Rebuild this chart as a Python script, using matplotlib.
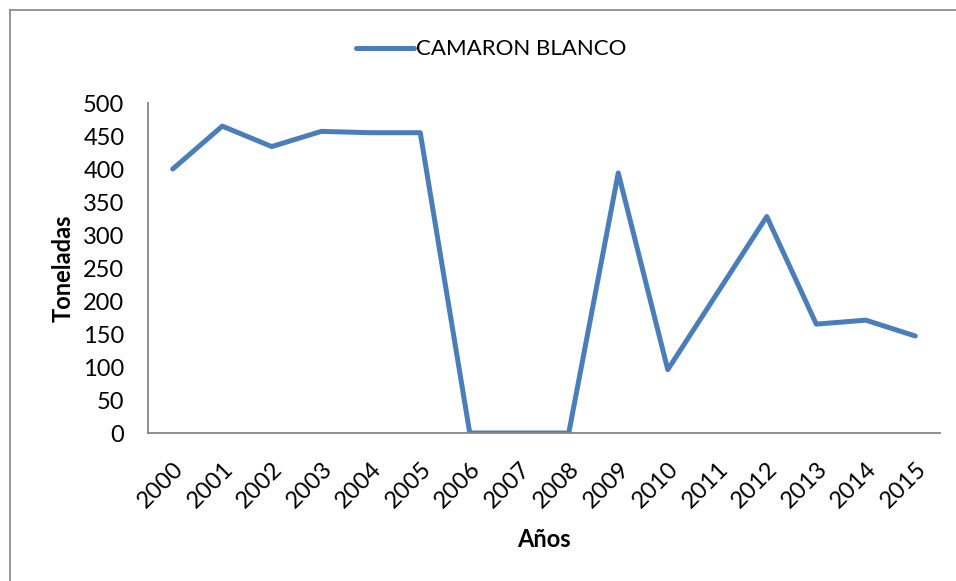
import matplotlib
matplotlib.use("Agg")
import matplotlib.pyplot as plt
from matplotlib.lines import Line2D

plt.rcParams['font.family'] = ['Lato', 'DejaVu Sans']

years = ["2000", "2001", "2002", "2003", "2004", "2005", "2006", "2007",
         "2008", "2009", "2010", "2011", "2012", "2013", "2014", "2015"]
toneladas = [400, 465, 434, 457, 455, 455, 0, 0, 0, 394, 96, 212, 328, 165, 171, 147]
series_name = "CAMARON BLANCO"

line_color = "#4A7EBB"
spine_color = "#868686"

fig = plt.figure(figsize=(9.56, 5.81), dpi=100)
ax = fig.add_axes([0.1548, 0.2547, 0.8285, 0.568])

x = list(range(len(years)))
ax.plot(x, toneladas, color=line_color, linewidth=3.6,
        solid_capstyle="round", solid_joinstyle="round", label=series_name)

ax.set_xlim(-0.5, len(years) - 0.5)
ax.set_ylim(0, 500)
ax.set_yticks(range(0, 501, 50))
ax.set_xticks(x)
ax.set_xticklabels(years, rotation=45, ha="right", rotation_mode="anchor")
ax.tick_params(axis="both", length=0, labelsize=17, colors="black")
ax.tick_params(axis="y", pad=17)
ax.tick_params(axis="x", pad=18)

for side in ("top", "right"):
    ax.spines[side].set_visible(False)
for side in ("left", "bottom"):
    ax.spines[side].set_color(spine_color)
    ax.spines[side].set_linewidth(1.3)

ax.set_ylabel("Toneladas", fontsize=17, fontweight="bold", labelpad=6)
ax.set_xlabel("Años", fontsize=17, fontweight="bold", labelpad=12)

ax.legend(loc="center", bbox_to_anchor=(0.514, 0.915), bbox_transform=fig.transFigure,
          frameon=False, fontsize=16, handlelength=2.6, handletextpad=0.1)

# outer chart border (left and top edges only visible in crop)
fig.add_artist(Line2D([9.5 / 956, 9.5 / 956], [0, 1 - 9.5 / 581],
                      transform=fig.transFigure, color=spine_color, linewidth=1.2))
fig.add_artist(Line2D([9.5 / 956, 1], [1 - 9.5 / 581, 1 - 9.5 / 581],
                      transform=fig.transFigure, color=spine_color, linewidth=1.2))

fig.savefig("out.png", dpi=100)
